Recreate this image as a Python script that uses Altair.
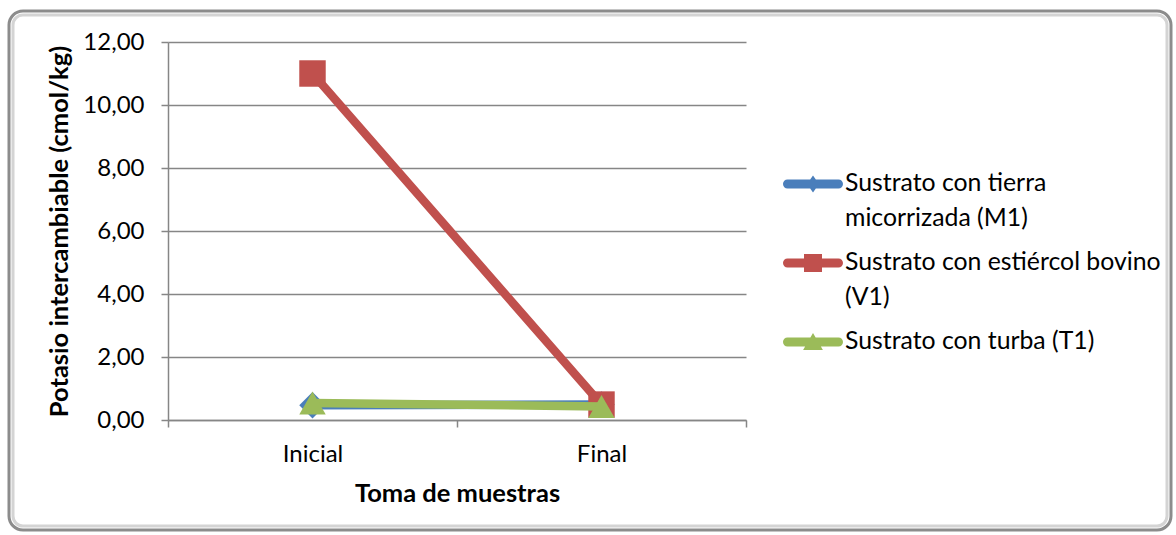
import json
import altair as alt
import pandas as pd

# ---------------- data ----------------
tomas = ["Inicial", "Final"]
series = [
    "Sustrato con tierra micorrizada (M1)",
    "Sustrato con estiércol bovino (V1)",
    "Sustrato con turba (T1)",
]
legend_lines = [
    ["Sustrato con tierra", "micorrizada (M1)"],
    ["Sustrato con estiércol bovino", "(V1)"],
    ["Sustrato con turba (T1)"],
]
m1 = [0.47, 0.49]
v1 = [11.00, 0.49]
t1 = [0.54, 0.43]
y_ticks = [0, 2, 4, 6, 8, 10, 12]

colors = ["#4A7EBB", "#C0504D", "#9BBB59"]
shapes = ["diamond", "square", "triangle-up"]
FONT = "Lato"
GRID = "#868686"

rows = []
for s, vals in zip(series, [m1, v1, t1]):
    for t, v in zip(tomas, vals):
        rows.append({"serie": s, "toma": t, "valor": v})
df = pd.DataFrame(rows)

# legend symbols: thick line with the series marker (unit box -1..1)
line_path = ("M-0.85,-0.15 L0.85,-0.15 A0.15,0.15 0 0 1 0.85,0.15 "
             "L-0.85,0.15 A0.15,0.15 0 0 1 -0.85,-0.15 Z")
legend_paths = [
    line_path + " M0,-0.28 L0.2,0 L0,0.28 L-0.2,0 Z",
    line_path + " M-0.3,-0.3 L0.3,-0.3 L0.3,0.3 L-0.3,0.3 Z",
    line_path + " M0,-0.3 L0.33,0.27 L-0.33,0.27 Z",
]

# label expressions
x_label_expr = " : ".join(
    f"datum.value == {i + 0.5} ? {json.dumps(t)}" for i, t in enumerate(tomas)
) + " : ''"
legend_label_expr = " : ".join(
    f"datum.label == {json.dumps(s)} ? {json.dumps(l)}" for s, l in zip(series, legend_lines)
) + " : datum.label"
tick_test = " || ".join(f"datum.value == {i + 0.5}" for i in range(len(tomas)))

color_scale = alt.Scale(domain=series, range=colors)

legend_def = alt.Legend(
    title=None,
    orient="none",
    legendX=615,
    legendY=112,
    labelExpr=legend_label_expr,
    labelFont=FONT,
    labelFontSize=24.8,
    labelColor="black",
    labelLimit=500,
    labelOffset=2,
    labelBaseline="middle",
    symbolSize=3600,
    symbolStrokeWidth=0,
    symbolOpacity=1,
    symbolFillColor="black",
    rowPadding=2,
)

base = alt.Chart(df).transform_calculate(
    xi=f"indexof({json.dumps(tomas)}, datum.toma) + 0.5"
)

x_enc = alt.X(
    "xi:Q",
    scale=alt.Scale(domain=[0, len(tomas)], nice=False, zero=False),
    axis=alt.Axis(
        values=[0, 0.5, 1, 1.5, 2],
        labelExpr=x_label_expr,
        grid=False,
        tickSize=7,
        tickColor=GRID,
        tickWidth=1.5,
        tickOpacity={"condition": {"test": tick_test, "value": 0}, "value": 1},
        domainColor=GRID,
        domainWidth=1.5,
        labelFont=FONT,
        labelFontSize=24,
        labelColor="black",
        labelPadding=15,
        labelFlush=False,
        title="Toma de muestras",
        titleFont=FONT,
        titleFontSize=25.5,
        titleFontWeight="bold",
        titleColor="black",
        titlePadding=15,
    ),
)
y_enc = alt.Y(
    "valor:Q",
    scale=alt.Scale(domain=[0, 12], nice=False),
    axis=alt.Axis(
        values=y_ticks,
        labelExpr="replace(format(datum.value, '.2f'), '.', ',')",
        grid=True,
        gridColor=GRID,
        gridWidth=1.3,
        tickSize=7,
        tickColor=GRID,
        tickWidth=1.5,
        domainColor=GRID,
        domainWidth=1.5,
        labelFont=FONT,
        labelFontSize=24,
        labelColor="black",
        labelPadding=17,
        title="Potasio intercambiable (cmol/kg)",
        titleFont=FONT,
        titleFontSize=25.5,
        titleFontWeight="bold",
        titleColor="black",
        titlePadding=10,
    ),
)
color_enc = alt.Color("serie:N", scale=color_scale, legend=legend_def)

layers = []
for s, shp in zip(series, shapes):
    sub = base.transform_filter(alt.datum.serie == s)
    layers.append(
        sub.mark_line(strokeWidth=8.5, strokeCap="round", strokeJoin="round").encode(
            x=x_enc, y=y_enc, color=color_enc
        )
    )
    layers.append(
        sub.mark_point(filled=True, size=700, opacity=1, shape=shp).encode(
            x=x_enc, y=y_enc, color=color_enc
        )
    )

legend_layer = base.transform_filter("false").mark_point(filled=True, size=3600, opacity=1).encode(
    x=x_enc,
    y=y_enc,
    color=color_enc,
    shape=alt.Shape("serie:N", scale=alt.Scale(domain=series, range=legend_paths), legend=legend_def),
)

frame = alt.Chart(pd.DataFrame({"f": [0]})).mark_rect(
    filled=False, stroke="#8c8c8c", strokeWidth=3, cornerRadius=14
).encode(x=alt.value(-159), x2=alt.value(1003), y=alt.value(-31), y2=alt.value(488))
frame_inner = alt.Chart(pd.DataFrame({"f": [0]})).mark_rect(
    filled=False, stroke="#d4d4d4", strokeWidth=3, cornerRadius=10
).encode(x=alt.value(-155), x2=alt.value(999), y=alt.value(-27), y2=alt.value(484))

chart = alt.layer(frame, frame_inner, legend_layer, *layers).properties(
    width=578,
    height=378,
    padding={"left": 168, "top": 42, "right": 430, "bottom": 115},
    autosize=alt.AutoSizeParams(type="none"),
    background="white",
).configure(style={"guide-label": {"lineHeight": 35}}).configure_view(stroke=None)

chart.save("out.html", embed_options={"renderer": "svg", "actions": False})
